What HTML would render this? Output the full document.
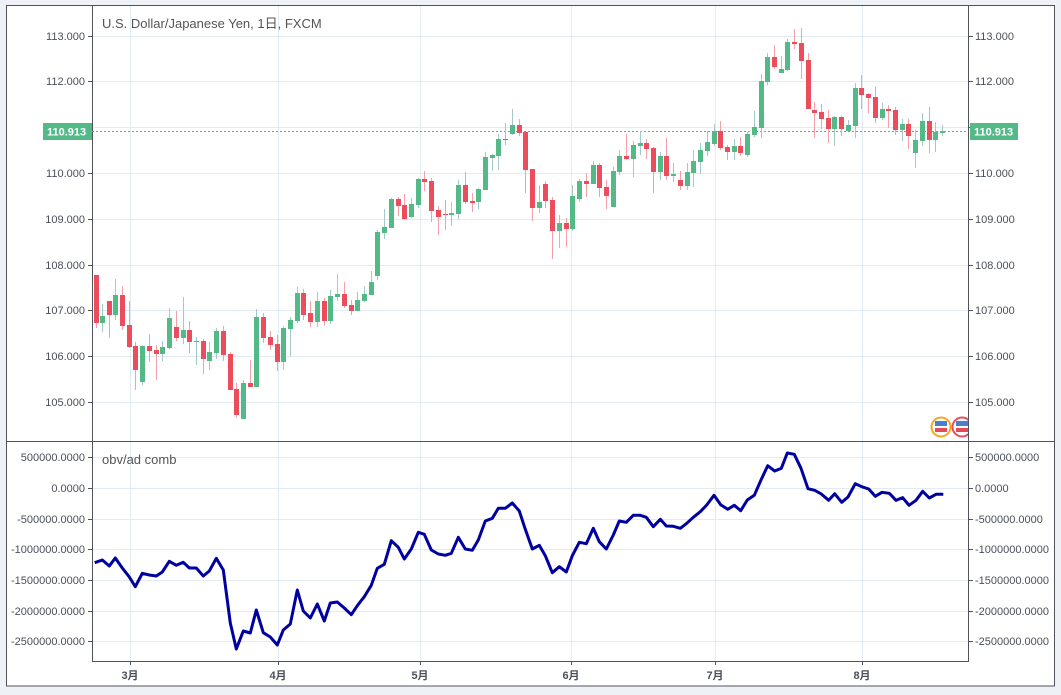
<!DOCTYPE html>
<html><head><meta charset="utf-8"><style>
html,body{margin:0;padding:0;background:#eef2f6;}
svg{display:block;font-family:"Liberation Sans","Noto Sans CJK JP",sans-serif;}
.t{font-size:11px;fill:#4a4f5a;}
.g rect{fill:#53b987}.g line{stroke:#a3c9c9}
.r rect{fill:#eb4d5c}.r line{stroke:#f5a0a8}
</style></head><body>
<svg width="1061" height="695" viewBox="0 0 1061 695">
<rect x="6.5" y="5.5" width="1048" height="680.5" fill="#fff" stroke="#50535a"/>
<g stroke="#e3ebf2" stroke-width="1">
<line x1="130.5" y1="6" x2="130.5" y2="661"/><line x1="278.5" y1="6" x2="278.5" y2="661"/><line x1="420.5" y1="6" x2="420.5" y2="661"/><line x1="571.5" y1="6" x2="571.5" y2="661"/><line x1="715.5" y1="6" x2="715.5" y2="661"/><line x1="862.5" y1="6" x2="862.5" y2="661"/>
<line x1="92" y1="36.5" x2="968" y2="36.5"/><line x1="92" y1="81.5" x2="968" y2="81.5"/><line x1="92" y1="127.5" x2="968" y2="127.5"/><line x1="92" y1="173.5" x2="968" y2="173.5"/><line x1="92" y1="219.5" x2="968" y2="219.5"/><line x1="92" y1="265.5" x2="968" y2="265.5"/><line x1="92" y1="310.5" x2="968" y2="310.5"/><line x1="92" y1="356.5" x2="968" y2="356.5"/><line x1="92" y1="402.5" x2="968" y2="402.5"/>
<line x1="92" y1="457.5" x2="968" y2="457.5"/><line x1="92" y1="488.5" x2="968" y2="488.5"/><line x1="92" y1="519.5" x2="968" y2="519.5"/><line x1="92" y1="549.5" x2="968" y2="549.5"/><line x1="92" y1="580.5" x2="968" y2="580.5"/><line x1="92" y1="611.5" x2="968" y2="611.5"/><line x1="92" y1="641.5" x2="968" y2="641.5"/>
</g>
<g stroke="#50535a" fill="none">
<line x1="92.5" y1="5" x2="92.5" y2="661"/><line x1="968.5" y1="5" x2="968.5" y2="661"/>
<line x1="6" y1="441.5" x2="1055" y2="441.5"/><line x1="92" y1="661.5" x2="969" y2="661.5"/>
<path d="M88 36.5h4M88 81.5h4M88 127.5h4M88 173.5h4M88 219.5h4M88 265.5h4M88 310.5h4M88 356.5h4M88 402.5h4M969 36.5h4M969 81.5h4M969 127.5h4M969 173.5h4M969 219.5h4M969 265.5h4M969 310.5h4M969 356.5h4M969 402.5h4M88 457.5h4M88 488.5h4M88 519.5h4M88 549.5h4M88 580.5h4M88 611.5h4M88 641.5h4M969 457.5h4M969 488.5h4M969 519.5h4M969 549.5h4M969 580.5h4M969 611.5h4M969 641.5h4M130.5 661v4M278.5 661v4M420.5 661v4M571.5 661v4M715.5 661v4M862.5 661v4"/>
</g>
<g class="t" text-anchor="end">
<text x="85" y="40">113.000</text><text x="85" y="85">112.000</text><text x="85" y="177">110.000</text><text x="85" y="223">109.000</text><text x="85" y="269">108.000</text><text x="85" y="314">107.000</text><text x="85" y="360">106.000</text><text x="85" y="406">105.000</text>
<text x="85" y="461">500000.0000</text><text x="85" y="492">0.0000</text><text x="85" y="523">-500000.0000</text><text x="85" y="553">-1000000.0000</text><text x="85" y="584">-1500000.0000</text><text x="85" y="615">-2000000.0000</text><text x="85" y="645">-2500000.0000</text>
</g>
<g class="t">
<text x="975" y="40">113.000</text><text x="975" y="85">112.000</text><text x="975" y="177">110.000</text><text x="975" y="223">109.000</text><text x="975" y="269">108.000</text><text x="975" y="314">107.000</text><text x="975" y="360">106.000</text><text x="975" y="406">105.000</text>
<text x="975" y="461">500000.0000</text><text x="975" y="492">0.0000</text><text x="975" y="523">-500000.0000</text><text x="975" y="553">-1000000.0000</text><text x="975" y="584">-1500000.0000</text><text x="975" y="615">-2000000.0000</text><text x="975" y="645">-2500000.0000</text>
</g>
<g class="t" text-anchor="middle" font-weight="bold" style="font-size:11px">
<text x="130" y="679">3月</text><text x="278" y="679">4月</text><text x="420" y="679">5月</text><text x="571" y="679">6月</text><text x="715" y="679">7月</text><text x="862" y="679">8月</text>
</g>
<text x="102" y="28" style="font-size:13px;fill:#555">U.S. Dollar/Japanese Yen, 1日, FXCM</text>
<text x="102" y="464" style="font-size:13px;fill:#555">obv/ad comb</text>
<line x1="92" y1="131.5" x2="968" y2="131.5" stroke="#53b987" stroke-dasharray="2,2"/>
<rect x="43" y="123" width="49" height="17" fill="#53b987"/><text x="47" y="135.5" style="font-size:11px;font-weight:bold;fill:#fff">110.913</text>
<rect x="970" y="123" width="48" height="17" fill="#53b987"/><text x="974" y="135.5" style="font-size:11px;font-weight:bold;fill:#fff">110.913</text>
<svg x="0" y="0" width="968" height="441" id="c"></svg>
<g id="cs"></g>
<polyline fill="none" stroke="#0000a0" stroke-width="3" stroke-linejoin="round" points="94.7,562.7 102.3,560 109.3,566 115.3,558 122.3,568 129.3,577 135.3,586.7 142.3,573.3 149.3,575 156.3,576 162.3,572 169.3,561.3 176.3,565.3 183.3,562.3 189.3,568 196.3,568 203.3,576 209.3,571 216.3,558.3 223.3,570 230.3,623 236.3,649 243.3,631 250.3,633 256.3,610 263.3,632.7 270.3,637 277.3,645 283.3,630 290.3,624 297.3,590 303.3,611 310.3,618 317.3,604 324.3,621 330.3,603 337.3,602 344.3,608 351.3,614.7 357.3,605.7 364.3,596.7 371.3,585.3 377.3,568.3 384.3,564.3 391.3,540.7 398.3,547.3 404.3,559 411.3,549 418.3,532.3 424.3,534.3 431.3,550 438.3,554 445.3,555.3 451.3,553.3 458.3,537.3 465.3,549 472.3,550.3 478.3,540 485.3,521 492.3,518.3 498.3,508.3 505.3,508.3 512.3,503 519.3,511 525.3,529.3 532.3,549 539.3,545.3 545.3,555.7 552.3,572.7 559.3,566.7 566.3,572 572.3,555.7 579.3,542.3 586.3,543.7 593.3,528.3 599.3,541.7 606.3,549 613.3,535 619.3,521 626.3,522.3 633.3,515.3 640.3,515.3 646.3,517.3 653.3,526.7 660.3,519.3 666.3,526 673.3,526.3 680.3,528.3 686.3,523.7 693.3,517.3 700.3,511.7 706.7,505 714,495.3 720.7,504.7 727.7,509.3 734.3,505.3 740.7,510.7 747.3,500 754.3,495.3 761,480 767.7,465.7 774.7,471 781.3,468.3 787.3,453 794.3,454.3 801,468.3 808,488.7 814.7,490.3 821.3,494 828.7,500.3 834.7,493.7 841.7,502.3 848,497 855.3,483.7 861.7,486.7 868.7,489 875.3,496.3 882,492.3 889.3,493.3 896,500.3 902.7,497.7 909,505.3 916,500.3 922.7,491.3 929.3,498 936,494.3 943.3,494.3"/>
<svg x="0" y="0" width="968" height="441">
<circle cx="941" cy="427" r="9.5" fill="#fff" stroke="#f5a623" stroke-width="2"/>
<rect x="935" y="421" width="12" height="5" fill="#4a7fd0"/><rect x="935" y="428" width="12" height="4" fill="#e54a5a"/>
<circle cx="962" cy="427" r="9.5" fill="#fff" stroke="#eb4d5c" stroke-width="2"/>
<rect x="956" y="421" width="12" height="5" fill="#4a7fd0"/><rect x="956" y="428" width="12" height="4" fill="#e54a5a"/>
</svg>
</svg>
<script>
var d=[
[95.7,275,323,275,328,'r'],[102.3,316,323,304,332,'g'],[109.3,301,315,301,338,'r'],[115.3,295,315,279,320,'g'],[122.3,295,326,286,330,'r'],[129.3,325,347,301,348,'r'],[135.3,346,370,342,390,'r'],[142.3,346,382,345,385,'g'],[149.3,346,351,334,362,'r'],[156.3,350,354,345,380,'r'],[162.3,347,354,341,361,'g'],[169.3,318,348,308,349,'g'],[176.3,327,338,311,341,'r'],[183.3,330,338,297,344,'g'],[189.3,330,342,321,353,'r'],[196.3,341,342,337,365,'g'],[203.3,341,359,339,374,'r'],[209.3,352,361,342,370,'g'],[216.3,331,353,328,359,'g'],[223.3,331,355,326,361,'r'],[230.3,354,390,352,390,'r'],[236.3,389,415,383,418,'r'],[243.3,383,419,380,419,'g'],[250.3,383,387,360,387,'r'],[256.3,317,387,309,387,'g'],[263.3,317,338,313,343,'r'],[270.3,337,345,331,350,'r'],[277.3,344,362,335,371,'r'],[283.3,328,362,326,370,'g'],[290.3,320,329,317,356,'g'],[297.3,293,321,287,323,'g'],[303.3,293,315,289,320,'r'],[310.3,313,322,301,327,'r'],[317.3,301,322,292,327,'g'],[324.3,301,321,298,326,'r'],[330.3,296,321,290,324,'g'],[337.3,294,297,274,301,'g'],[344.3,294,306,282,308,'r'],[351.3,305,311,300,315,'r'],[357.3,300,311,292,311,'g'],[364.3,294,301,286,302,'g'],[371.3,282,295,271,295,'g'],[377.3,232,276,230,280,'g'],[384.3,227,233,209,239,'g'],
[391.3,199,228,198,228,'g'],[398.3,199,206,197,216,'r'],[404.3,205,219,194,220,'r'],[411.3,204,217,198,218,'g'],[418.3,179,205,178,208,'g'],[424.3,179,182,171,191,'r'],[431.3,181,211,178,222,'r'],[438.3,210,217,206,235,'r'],[445.3,214,215,200,230,'r'],[451.3,213,215,202,226,'g'],[458.3,185,214,180,219,'g'],[465.3,185,202,172,204,'r'],[472.3,201,203,193,212,'r'],[478.3,189,202,188,209,'g'],[485.3,157,190,152,190,'g'],[492.3,155,158,154,171,'g'],[498.3,139,156,134,170,'g'],[505.3,139,140,123,145,'r'],[512.3,125,134,109,135,'g'],[519.3,125,133,119,136,'r'],[525.3,132,170,132,193,'r'],[532.3,169,208,169,221,'r'],[539.3,202,208,185,213,'g'],[545.3,184,201,181,208,'r'],[552.3,200,231,197,259,'r'],[559.3,223,231,215,248,'g'],[566.3,223,229,218,247,'r'],[572.3,196,229,185,231,'g'],[579.3,181,199,179,202,'g'],[586.3,181,184,173,197,'r'],[593.3,165,184,161,184,'g'],[599.3,165,188,163,197,'r'],[606.3,187,196,180,209,'r'],[613.3,171,207,167,207,'g'],[619.3,156,172,150,175,'g'],[626.3,156,159,134,160,'r'],[633.3,145,159,141,177,'g'],[640.3,143,146,131,155,'g'],[646.3,143,149,139,159,'r'],[653.3,148,172,147,193,'r'],[660.3,156,172,152,180,'g'],[666.3,156,176,138,180,'r'],[673.3,174,176,163,182,'g'],
[680.3,180,186,171,190,'r'],[687.3,172,186,163,190,'g'],[693.3,161,173,150,187,'g'],[700.3,150,162,143,174,'g'],[707.3,142,151,131,156,'g'],[714.3,131,144,124,146,'g'],[720.3,131,148,121,150,'r'],[727.3,147,152,145,160,'r'],[734.3,146,152,139,160,'g'],[740.3,146,153,137,156,'r'],[747.3,134,155,132,157,'g'],[754.3,127,135,111,137,'g'],[761.3,81,128,74,138,'g'],[767.3,57,82,53,85,'g'],[774.3,57,67,45,69,'r'],[781.3,69,73,56,73,'g'],[787.3,42,70,39,71,'g'],[794.3,42,44,29,49,'r'],[801.3,43,61,28,79,'r'],[808.3,60,109,53,109,'r'],[814.3,110,113,102,138,'r'],[821.3,112,119,104,129,'r'],[828.3,118,129,110,143,'r'],[834.3,117,129,116,146,'g'],[841.3,117,129,116,136,'r'],[848.3,125,131,120,131,'g'],[855.3,88,126,83,138,'g'],[861.3,88,95,75,109,'r'],[868.3,94,98,93,113,'r'],[875.3,97,118,87,123,'r'],[882.3,109,118,103,120,'g'],[888.3,109,111,105,128,'r'],[895.3,110,130,107,135,'r'],[902.3,124,130,119,141,'g'],[908.3,124,136,119,149,'r'],[915.3,140,153,130,168,'g'],[922.3,121,141,113,146,'g'],[929.3,121,140,107,153,'r'],[935.3,132,140,122,152,'g'],[942.3,131,133,125,136,'g']];
var ns='http://www.w3.org/2000/svg',g=document.getElementById('cs'),h='';
d.forEach(function(c){var x=Math.round(c[0]);h+='<g class="'+c[5]+'"><line x1="'+(x+0.5)+'" y1="'+c[3]+'" x2="'+(x+0.5)+'" y2="'+c[4]+'"/><rect x="'+(x-2)+'" y="'+c[1]+'" width="5" height="'+Math.max(1,c[2]-c[1])+'"/></g>';});
g.innerHTML=h;
</script>
</body></html>
